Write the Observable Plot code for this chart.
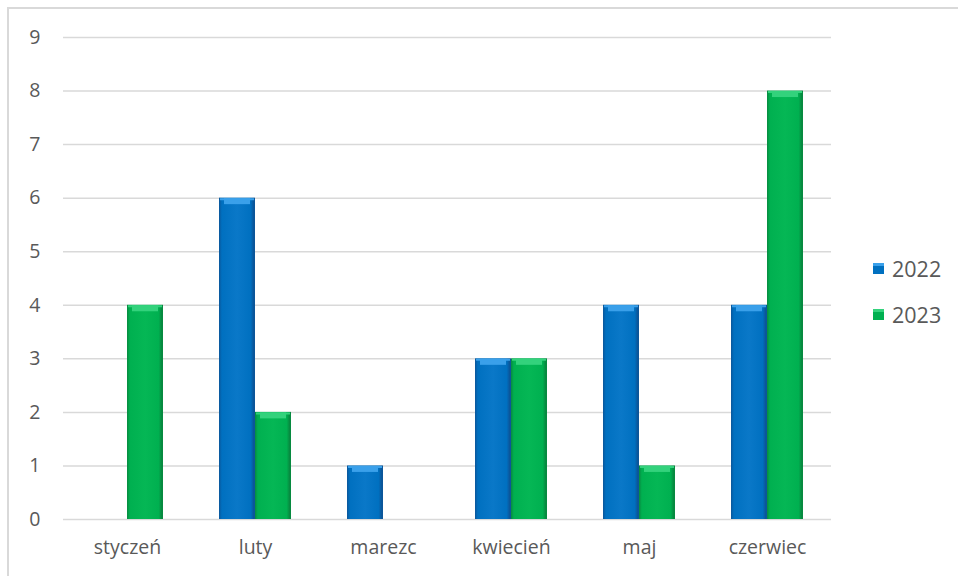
<!DOCTYPE html>
<html>
<head>
<meta charset="utf-8">
<script src="https://cdn.jsdelivr.net/npm/d3@7"></script>
<script src="https://cdn.jsdelivr.net/npm/@observablehq/plot@0.6"></script>
<style>
  html, body { margin: 0; padding: 0; background: #fff; overflow: hidden; }
  #wrap { position: relative; width: 958px; height: 576px; font-family: "Open Sans", sans-serif; }
  #border { position: absolute; left: 7px; top: 7px; width: 1000px; height: 700px; border: 2px solid #d9d9d9; box-sizing: border-box; }
  #chart { position: absolute; left: 0; top: 0; }
  .legend { position: absolute; left: 873px; font-size: 21.5px; color: #595959; display: flex; align-items: center; }
  .legend .sw { width: 11px; height: 11px; margin-right: 8px; box-sizing: border-box; }
</style>
</head>
<body>
<div id="wrap">
  <div id="border"></div>
  <div id="chart"></div>
  <div id="legend"></div>
</div>
<script>
const months = ["styczeń", "luty", "marezc", "kwiecień", "maj", "czerwiec"];
const years = ["2022", "2023"];
const values2022 = [0, 6, 1, 3, 4, 4];
const values2023 = [4, 2, 0, 3, 1, 8];
const yTicks = [0, 1, 2, 3, 4, 5, 6, 7, 8, 9];
const colors = ["#0070C0", "#00B050"];
const bevelColors = ["#3aa0ea", "#33d27c"];

const data = [];
months.forEach((m, i) => {
  data.push({month: m, year: years[0], value: values2022[i]});
  data.push({month: m, year: years[1], value: values2023[i]});
});
const nonZero = data.filter(d => d.value > 0);

const chart = Plot.plot({
  width: 958,
  height: 576,
  marginLeft: 61,
  marginRight: 125,
  marginTop: 37,
  marginBottom: 57,
  style: {fontFamily: "'Open Sans', sans-serif", fontSize: "19.5px", color: "#595959", background: "transparent"},
  fx: {domain: months, paddingInner: 0, paddingOuter: 0, label: null, axis: "bottom", tickSize: 0, tickPadding: 21},
  x: {domain: years, paddingInner: 0, paddingOuter: 0.76, axis: null},
  y: {domain: [0, 9], ticks: yTicks, tickSize: 0, tickPadding: 23, label: null, tickFormat: d3.format("d")},
  marks: [
    Plot.ruleY(yTicks, {stroke: "#d9d9d9", strokeWidth: 1.5}),
    Plot.barY(data, {fx: "month", x: "year", y: "value", fill: d => d.year === "2022" ? "url(#g2022)" : "url(#g2023)", inset: 0}),
    Plot.tickY(nonZero, {fx: "month", x: "year", y: "value", stroke: d => bevelColors[years.indexOf(d.year)], strokeWidth: 6, dy: 3, insetLeft: 5, insetRight: 5}),
    Plot.tickY(nonZero, {fx: "month", x: "year", y: "value", stroke: d => bevelColors[years.indexOf(d.year)], strokeWidth: 2, dy: 1, insetLeft: 1, insetRight: 1})
  ]
});

// gradients for the bevelled bar look
const svg = d3.select(chart);
const defs = svg.insert("defs", ":first-child");
function grad(id, dark, main, light) {
  const g = defs.append("linearGradient").attr("id", id).attr("x1", 0).attr("x2", 1).attr("y1", 0).attr("y2", 0);
  [[0, dark], [0.08, main], [0.5, light], [0.88, main], [0.96, dark], [1, dark]].forEach(([o, c]) =>
    g.append("stop").attr("offset", o).attr("stop-color", c));
}
grad("g2022", "#0b569a", colors[0], "#0a78c8");
grad("g2023", "#078a40", colors[1], "#05b755");

document.getElementById("chart").appendChild(chart);

const legend = document.getElementById("legend");
years.forEach((y, i) => {
  const row = document.createElement("div");
  row.className = "legend";
  row.style.top = (i === 0 ? 254 : 300) + "px";
  const sw = document.createElement("span");
  sw.className = "sw";
  sw.style.background = colors[i];
  sw.style.borderTop = "3px solid " + bevelColors[i];
  const t = document.createElement("span");
  t.textContent = y;
  row.appendChild(sw);
  row.appendChild(t);
  legend.appendChild(row);
});
</script>
</body>
</html>
